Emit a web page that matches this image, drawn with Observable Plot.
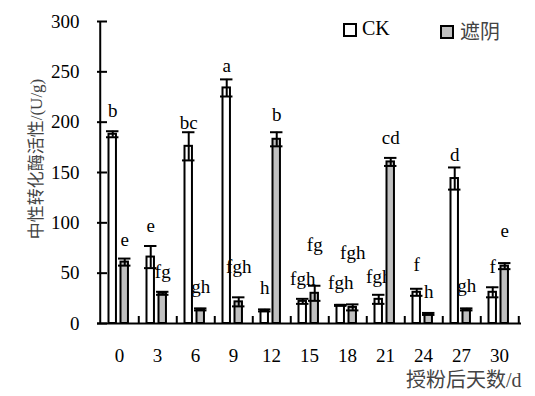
<!DOCTYPE html>
<html><head><meta charset="utf-8">
<script src="https://cdn.jsdelivr.net/npm/d3@7"></script>
<script src="https://cdn.jsdelivr.net/npm/@observablehq/plot@0.6"></script>
<style>
body{margin:0;background:#fff;}
#wrap{position:relative;width:535px;height:396px;overflow:hidden;}
.sw{position:absolute;width:10px;height:10px;border:2px solid #000;}
.lt{position:absolute;font-size:20px;line-height:20px;white-space:nowrap;}
#ytitle{position:absolute;left:36px;top:159px;transform:translate(-50%,-50%) rotate(-90deg);white-space:nowrap;font-size:17px;line-height:17px;color:#444;font-family:'Liberation Serif','Noto Sans CJK SC',serif;}
</style></head><body>
<div id="wrap"><div id="chart"></div><div id="ytitle"></div></div>
<script>
// ---- data ----
const days = ["0","3","6","9","12","15","18","21","24","27","30"];
const seriesNames = ["CK","遮阴"];
const ckMean = [188, 66, 176, 234, 13, 22, 18, 24, 31, 144, 31];
const ckErr = [3, 11, 14, 8.5, 1, 2.5, 0.5, 4.5, 3.5, 11, 5];
const shadeMean = [61, 30, 14, 21.5, 183, 30, 16, 160.5, 9.5, 14, 57];
const shadeErr = [3.5, 1.5, 1, 4.5, 7, 7.5, 3, 4, 1, 1, 3];
const ckLetters = ["b","e","bc","a","h","fgh","fgh","fgh","f","d","f"];
const shadeLetters = ["e","fg","gh","fgh","b","fg","fgh","cd","h","gh","e"];
const yTicks = [0, 50, 100, 150, 200, 250, 300];
const yTitle = "中性转化酶活性/(U/g)";
const xTitle = "授粉后天数/d";

// ---- layout (pixels) ----
const W = 535, H = 396, mL = 97, mR = 14, mT = 21, mB = 73;
const step = (W - mL - mR) / days.length;
const pxPerUnit = (H - mT - mB) / 300;
const ckLabelGap = [20, 20, 9, 13, 22, 20, 22, 18, 24, 13, 20];
const shadeLabelGap = [19, 20, 21, 30, 17, 41, 51, 20, 21, 22, 32];

const ck = days.map((d, i) => ({day: d, mean: ckMean[i], err: ckErr[i], letter: ckLetters[i], gap: ckLabelGap[i]}));
const sh = days.map((d, i) => ({day: d, mean: shadeMean[i], err: shadeErr[i], letter: shadeLetters[i], gap: shadeLabelGap[i]}));

const ckC = 12.5, shC = 24.5; // bar centers from band start
const bw = 8, capW = 13;

function seriesMarks(rows, c, fill) {
  return [
    Plot.barY(rows, {x: "day", y: "mean", fill, stroke: "black", strokeWidth: 2,
      insetLeft: c - bw / 2, insetRight: step - c - bw / 2}),
    Plot.ruleX(rows, {x: "day", y1: d => d.mean - d.err, y2: d => d.mean + d.err, dx: c - step / 2, stroke: "black", strokeWidth: 2}),
    Plot.tickY(rows, {x: "day", y: d => d.mean + d.err, stroke: "black", strokeWidth: 2,
      insetLeft: c - capW / 2, insetRight: step - c - capW / 2}),
    Plot.tickY(rows, {x: "day", y: d => d.mean - d.err, stroke: "black", strokeWidth: 2,
      insetLeft: c - capW / 2, insetRight: step - c - capW / 2}),
    Plot.text(rows, {x: "day", y: d => d.mean + d.err + d.gap / pxPerUnit, text: "letter",
      dx: c - step / 2, lineAnchor: "middle", fill: "black"})
  ];
}

const chart = Plot.plot({
  width: W, height: H, marginLeft: mL, marginRight: mR, marginTop: mT, marginBottom: mB,
  style: {fontFamily: "'Liberation Serif', 'Noto Sans CJK SC', serif", fontSize: "19px", color: "black", background: "white", overflow: "visible"},
  x: {domain: days, padding: 0, axis: null},
  y: {domain: [0, 300], axis: null},
  marks: [
    ...seriesMarks(ck, ckC, "white"),
    ...seriesMarks(sh, shC, "#c0c0c0"),
    Plot.ruleY([0], {stroke: "black", strokeWidth: 2}),
    Plot.ruleX([days[0]], {dx: -step / 2, stroke: "black", strokeWidth: 2}),
    Plot.ruleX(days, {dx: step / 2, insetTop: (H - mT - mB) - 7, stroke: "black", strokeWidth: 2}),
    Plot.axisY({ticks: yTicks, tickSize: 10, dx: 10, text: null, label: null, strokeWidth: 2}),
    Plot.axisY({ticks: yTicks, tickSize: 0, tickPadding: 18, label: null}),
    Plot.axisX({tickSize: 0, tickPadding: 25, label: null}),
    Plot.text([xTitle], {text: d => d, frameAnchor: "bottom-right", textAnchor: "end", lineAnchor: "middle", dy: 57, fontSize: 20, fill: "#444"})
  ]
});
document.getElementById("chart").appendChild(chart);
document.getElementById("ytitle").textContent = yTitle;

// legend overlay
const wrap = document.getElementById("wrap");
const legendItems = [
  {name: seriesNames[0], fill: "white", sx: 343, sy: 23, tx: 362, ty: 18, color: "black"},
  {name: seriesNames[1], fill: "#c0c0c0", sx: 440, sy: 25, tx: 460, ty: 22, color: "#444"}
];
legendItems.forEach(it => {
  const s = document.createElement("div");
  s.className = "sw"; s.style.left = it.sx + "px"; s.style.top = it.sy + "px"; s.style.background = it.fill;
  wrap.appendChild(s);
  const t = document.createElement("div");
  t.className = "lt"; t.style.left = it.tx + "px"; t.style.top = it.ty + "px"; t.style.color = it.color;
  t.style.fontFamily = "'Liberation Serif', 'Noto Sans CJK SC', serif";
  t.textContent = it.name;
  wrap.appendChild(t);
});
</script>
</body></html>
